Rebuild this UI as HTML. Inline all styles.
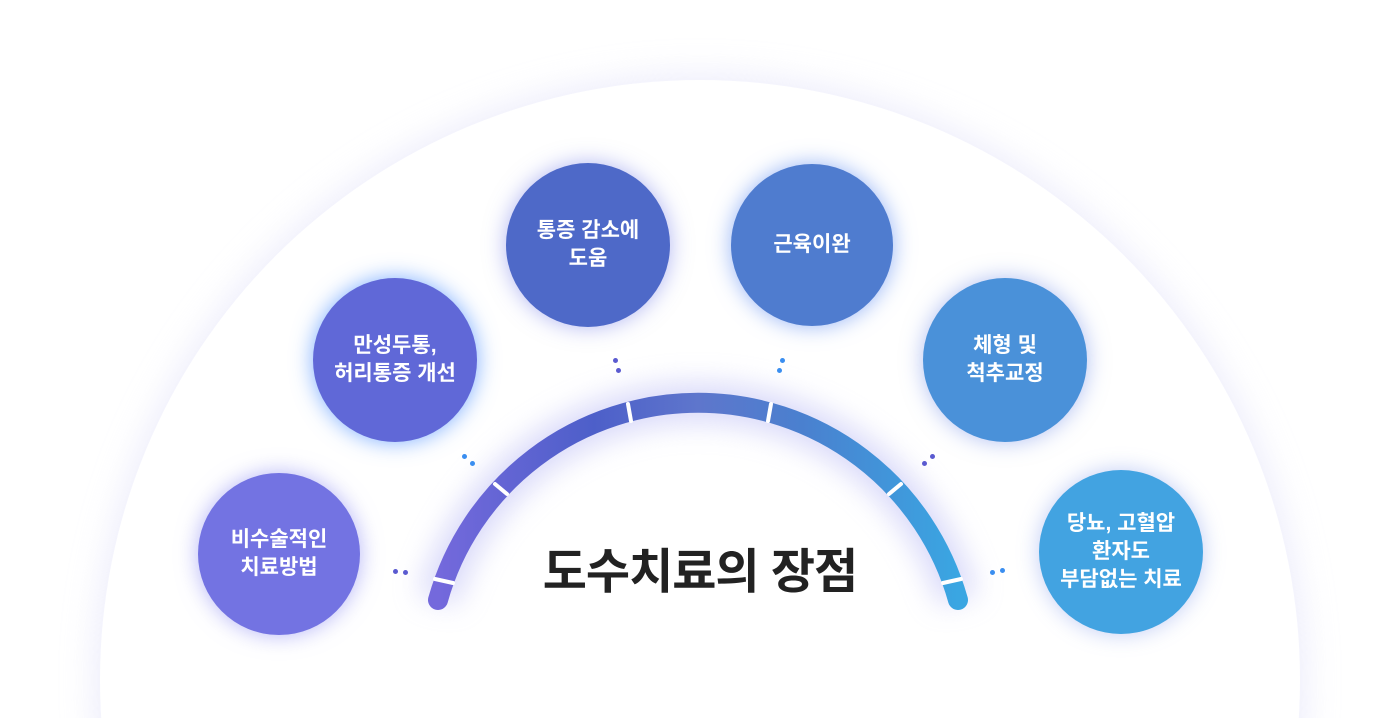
<!DOCTYPE html>
<html><head><meta charset="utf-8"><style>
html,body{margin:0;padding:0;background:#fff;overflow:hidden;width:1400px;height:718px;}
#w{position:relative;width:1400px;height:718px;overflow:hidden;font-family:"Liberation Sans","Noto Sans CJK KR",sans-serif;}
.c{position:absolute;border-radius:50%;color:#fff;font-weight:bold;font-size:21px;line-height:28px;display:flex;align-items:center;justify-content:center;text-align:center;}
.t{position:absolute;left:450px;top:532px;width:500px;text-align:center;font-size:48px;font-weight:bold;color:#222;letter-spacing:-1px;}
.d{position:absolute;width:5px;height:5px;border-radius:50%;}
</style></head><body><div id="w">
<svg width="1400" height="718" style="position:absolute;left:0;top:0">
<defs>
<linearGradient id="g" x1="0" x2="1"><stop offset="0" stop-color="#7469dc"/><stop offset="0.3" stop-color="#4d5fc9"/><stop offset="0.5" stop-color="#5e76cc"/><stop offset="0.7" stop-color="#4a80cf"/><stop offset="1" stop-color="#3aa6e2"/></linearGradient>
<filter id="b" x="-50%" y="-50%" width="200%" height="200%"><feGaussianBlur stdDeviation="14"/></filter>
<filter id="b2" x="-20%" y="-20%" width="140%" height="140%"><feGaussianBlur stdDeviation="18"/></filter>
</defs>
<circle cx="700" cy="680" r="602" fill="#dcdcf8" opacity="0.6" filter="url(#b2)"/>
<circle cx="700" cy="680" r="600" fill="#fff"/>
<path d="M438 600 A270 270 0 0 1 958 600" fill="none" stroke="#b5b6f4" stroke-width="40" opacity="0.5" filter="url(#b)"/>
<path d="M438 600 A270 270 0 0 1 958 600" fill="none" stroke="url(#g)" stroke-width="20" stroke-linecap="round"/>
<g stroke="#fff" stroke-width="4" stroke-linecap="round">
<line x1="435" y1="579" x2="453" y2="583"/>
<line x1="495" y1="484" x2="507" y2="494"/>
<line x1="628" y1="404" x2="631" y2="421"/>
<line x1="771" y1="404" x2="768" y2="421"/>
<line x1="901" y1="484" x2="889" y2="494"/>
<line x1="961" y1="579" x2="943" y2="583"/>
</g>
</svg>
<div class="t">도수치료의 장점</div>
<div class="c" style="left:198px;top:473px;width:162px;height:162px;background:#7373e2;box-shadow:0 0 22px rgba(120,120,240,0.55)">비수술적인<br>치료방법</div>
<div class="c" style="left:313px;top:278px;width:164px;height:164px;background:#6068d7;box-shadow:0 0 22px rgba(70,140,255,0.7)">만성두통,<br>허리통증 개선</div>
<div class="c" style="left:506px;top:163px;width:164px;height:164px;background:#4e69c8;box-shadow:0 0 22px rgba(100,110,230,0.5)">통증 감소에<br>도움</div>
<div class="c" style="left:731px;top:164px;width:162px;height:162px;background:#4f7ccf;box-shadow:0 0 22px rgba(80,130,240,0.6)">근육이완</div>
<div class="c" style="left:923px;top:278px;width:164px;height:164px;background:#4a91d9;box-shadow:0 0 22px rgba(100,130,230,0.5)">체형 및<br>척추교정</div>
<div class="c" style="left:1039px;top:470px;width:164px;height:164px;background:#42a3e1;box-shadow:0 0 22px rgba(100,130,230,0.4)">당뇨, 고혈압<br>환자도<br>부담없는 치료</div>
<div class="d" style="left:393px;top:569px;background:#5a5ad0"></div><div class="d" style="left:403px;top:570px;background:#5a5ad0"></div>
<div class="d" style="left:462px;top:454px;background:#3a8ef0"></div><div class="d" style="left:470px;top:461px;background:#3a8ef0"></div>
<div class="d" style="left:613px;top:358px;background:#5a5ad0"></div><div class="d" style="left:616px;top:368px;background:#5a5ad0"></div>
<div class="d" style="left:780px;top:358px;background:#3a8ef0"></div><div class="d" style="left:777px;top:368px;background:#3a8ef0"></div>
<div class="d" style="left:930px;top:454px;background:#5a5ad0"></div><div class="d" style="left:922px;top:461px;background:#5a5ad0"></div>
<div class="d" style="left:990px;top:570px;background:#3a8ef0"></div><div class="d" style="left:1000px;top:568px;background:#3a8ef0"></div>
</div></body></html>
